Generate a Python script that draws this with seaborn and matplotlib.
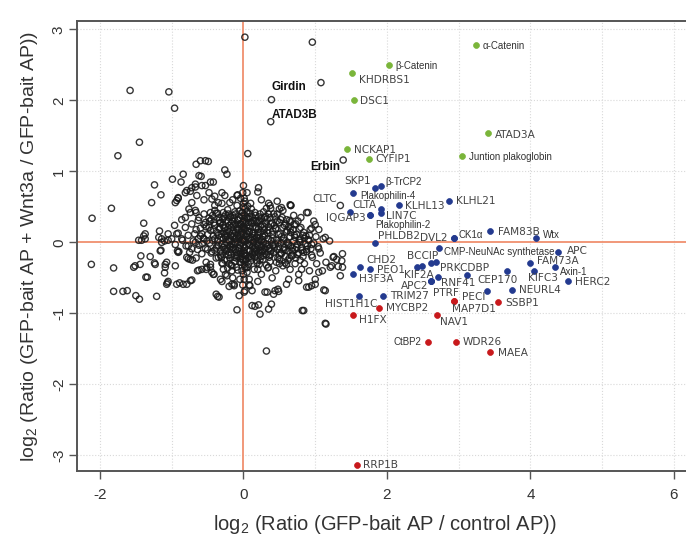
import matplotlib
matplotlib.use("Agg")
import matplotlib.pyplot as plt
import seaborn as sns
import pandas as pd

sns.set_theme(style="white")
plt.rcParams["font.family"] = ["Liberation Sans", "DejaVu Sans"]
plt.rcParams["mathtext.fontset"] = "custom"
plt.rcParams["mathtext.rm"] = "Liberation Sans"
plt.rcParams["mathtext.it"] = "Liberation Sans:italic"

# ---------------- data ----------------
bg_points = [
    # sparse outliers
    (0.02, 2.89), (0.96, 2.82), (1.08, 2.25), (0.06, 1.25), (-1.58, 2.14), (-1.04, 2.12),
    (-0.96, 1.89), (-1.45, 1.41), (-1.75, 1.22), (-2.11, 0.34), (-1.84, 0.48), (1.35, 0.52),
    (0.21, 0.77), (0.20, 0.71), (0.66, 0.52), (0.90, 0.42), (0.32, -1.53), (1.15, -1.15),
    (0.82, -0.96), (0.84, -0.96), (1.14, -1.14),
    # upper-left shoulder
    (-0.99, 0.89), (-0.84, 0.96), (-0.87, 0.85), (-0.66, 1.10), (-0.60, 1.15), (-0.53, 1.15),
    (-0.49, 1.14), (-0.62, 0.94), (-0.59, 0.93), (-0.67, 0.78), (-0.79, 0.73), (-0.74, 0.72),
    (-0.91, 0.62), (-0.95, 0.56), (-0.72, 0.56), (-0.53, 0.80), (-0.46, 0.85), (-0.42, 0.85),
    (-0.65, 0.66), (-0.55, 0.60), (-0.48, 0.70), (-0.40, 0.65), (-0.76, 0.47), (-0.66, 0.42),
    (-0.62, 0.35), (-0.55, 0.40), (-0.47, 0.30), (-0.40, 0.52), (-0.86, 0.32), (-0.96, 0.24),
    (-0.81, 0.21), (-0.72, 0.26), (-0.66, 0.18), (-0.58, 0.12), (-0.91, 0.13), (-0.77, 0.10),
    (-0.52, 0.22), (-0.93, 0.59), (-0.91, 0.63), (-0.81, 0.70), (-0.72, 0.77), (-0.67, 0.82),
    (-0.58, 0.80), (-0.30, 0.70), (-0.26, 0.66), (-0.19, 0.56), (-0.26, 1.02), (-0.23, 0.96),
    (-0.09, 0.66), (-0.81, 0.35), (-0.74, 0.42), (-0.67, 0.45), (-0.63, 0.31), (-0.53, 0.28),
    (-0.46, 0.42), (-0.44, 0.61), (-0.35, 0.56),
    # far left band
    (-1.24, 0.81), (-1.15, 0.67), (-1.28, 0.56), (-1.39, 0.27), (-1.37, 0.12), (-1.46, 0.03),
    (-1.42, 0.03), (-1.17, 0.16), (-1.05, 0.12), (-1.18, 0.07), (-1.00, 0.05), (-1.39, 0.09),
    (-1.37, 0.05), (-1.14, 0.05), (-1.05, 0.03), (-0.93, 0.12), (-0.86, 0.05), (-1.16, -0.12),
    (-1.14, 0.00), (-1.10, 0.02), (-0.95, -0.03), (-0.85, 0.03), (-0.80, -0.05), (-0.70, 0.02),
    (-0.62, -0.04), (-0.55, 0.05), (-0.50, -0.10), (-0.92, -0.12), (-0.75, -0.14), (-0.66, -0.22),
    (-0.58, -0.16), (-0.52, -0.28), (-0.77, -0.05), (-0.72, -0.09), (-0.67, 0.00), (-0.63, 0.05),
    (-0.91, -0.14), (-0.79, -0.21), (-0.74, -0.24),
    # lower-left
    (-2.12, -0.31), (-1.81, -0.36), (-1.53, -0.35), (-1.43, -0.19), (-1.30, -0.20), (-1.44, -0.31),
    (-1.24, -0.29), (-1.15, -0.11), (-1.36, -0.49), (-1.34, -0.49), (-1.09, -0.31), (-1.07, -0.28),
    (-1.09, -0.35), (-1.10, -0.43), (-0.95, -0.33), (-0.90, -0.13), (-1.06, -0.57), (-1.05, -0.55),
    (-1.81, -0.69), (-1.68, -0.69), (-1.62, -0.68), (-1.50, -0.75), (-1.45, -0.80), (-1.21, -0.76),
    (-0.89, -0.57), (-0.79, -0.59), (-0.72, -0.53), (-0.77, -0.23), (-0.71, -0.25), (-0.64, -0.40),
    (-0.62, -0.39), (-0.52, -0.38), (-0.46, -0.31), (-0.46, -0.35), (-0.41, -0.45), (-0.38, -0.73),
    (-0.36, -0.76), (-0.44, -0.42), (-0.58, -0.38), (-0.34, -0.77), (-1.23, -0.31), (-1.51, -0.33),
    (-1.07, -0.59), (-0.93, -0.59), (-0.84, -0.59), (-0.74, -0.54), (-0.51, -0.35), (-0.42, -0.45),
    # lower-middle / right
    (-0.09, -0.95), (0.12, -0.89), (0.16, -0.90), (0.21, -0.88), (0.23, -1.01), (0.35, -0.94),
    (0.39, -0.87), (-0.06, -0.75), (0.09, -0.61), (0.12, -0.68), (0.33, -0.70), (0.44, -0.68),
    (0.48, -0.66), (0.60, -0.59), (0.63, -0.52), (0.77, -0.45), (0.81, -0.38), (-0.23, -0.47),
    (-0.16, -0.40), (-0.32, -0.52), (-0.13, -0.59), (0.30, -0.70), (0.42, -0.73), (0.49, -0.69),
    (0.77, -0.54), (0.88, -0.63), (1.00, -0.59), (1.14, -0.68), (-0.16, -0.59), (-0.13, -0.61),
    (0.08, -0.60), (-0.28, -0.38), (-0.20, -0.30), (-0.10, -0.35), (0.05, -0.42), (0.15, -0.38),
    (0.25, -0.45), (0.35, -0.35), (0.45, -0.40), (0.55, -0.33), (0.65, -0.38), (0.72, -0.30),
    (0.85, -0.30), (0.92, -0.40), (0.62, -0.25), (0.50, -0.30), (0.40, -0.50), (0.20, -0.55),
    (0.08, -0.52), (-0.05, -0.52), (0.95, -0.18), (1.10, -0.40), (1.02, -0.30), (1.12, -0.67),
    (1.00, -0.52), (0.95, -0.61), (0.91, -0.63), (1.35, -0.47), (1.38, -0.16), (1.26, -0.20),
    (1.30, -0.24), (1.32, -0.34), (1.38, -0.35), (1.21, -0.35), (1.15, -0.28), (1.05, -0.09),
    (1.07, -0.15), (1.25, -0.21), (1.37, -0.26), (1.23, -0.33), (1.05, -0.42), (-0.30, -0.55),
    (-0.20, -0.62), (-0.15, -0.50), (-0.25, -0.45), (0.02, -0.68),
    # upper-right shoulder
    (0.35, 0.55), (0.37, 0.52), (0.50, 0.47), (0.53, 0.49), (0.65, 0.53), (0.95, 0.20),
    (1.11, 0.05), (1.14, 0.07), (0.30, 0.35), (0.42, 0.40), (0.55, 0.45), (0.70, 0.38),
    (0.76, 0.30), (0.80, 0.35), (0.60, 0.32), (0.47, 0.58), (0.25, 0.60), (0.10, 0.55),
    (-0.08, 0.67), (-0.15, 0.60), (-0.30, 0.55), (-0.40, 0.45), (0.05, 0.70), (0.32, 0.48),
    (1.00, 0.25), (1.05, 0.18), (1.20, 0.02), (0.98, 0.30), (0.66, 0.52), (0.88, 0.42),
    # dense core
    (-0.45, 0.32), (-0.42, 0.18), (-0.40, 0.05), (-0.38, -0.08), (-0.36, 0.41), (-0.35, -0.21),
    (-0.33, 0.27), (-0.31, 0.12), (-0.30, -0.02), (-0.29, -0.30), (-0.27, 0.36), (-0.26, 0.20),
    (-0.25, 0.07), (-0.24, -0.12), (-0.23, -0.25), (-0.22, 0.46), (-0.21, 0.29), (-0.20, 0.15),
    (-0.19, 0.02), (-0.18, -0.06), (-0.17, -0.17), (-0.16, -0.33), (-0.15, 0.38), (-0.14, 0.24),
    (-0.13, 0.10), (-0.12, -0.01), (-0.11, -0.10), (-0.10, -0.22), (-0.09, 0.52), (-0.08, 0.31),
    (-0.07, 0.18), (-0.06, 0.06), (-0.05, -0.04), (-0.04, -0.15), (-0.03, -0.28), (-0.02, 0.42),
    (-0.01, 0.22), (0.00, 0.11), (0.01, 0.01), (0.02, -0.07), (0.03, -0.19), (0.04, -0.36),
    (0.05, 0.34), (0.06, 0.16), (0.07, 0.04), (0.08, -0.03), (0.09, -0.12), (0.10, -0.26),
    (0.11, 0.47), (0.12, 0.27), (0.13, 0.13), (0.14, 0.00), (0.15, -0.09), (0.16, -0.20),
    (0.17, 0.38), (0.18, 0.20), (0.19, 0.07), (0.20, -0.05), (0.21, -0.15), (0.22, -0.31),
    (0.23, 0.30), (0.24, 0.14), (0.25, 0.02), (0.26, -0.11), (0.27, -0.24), (0.28, 0.43),
    (0.29, 0.22), (0.30, 0.09), (0.31, -0.02), (0.32, -0.17), (0.33, 0.33), (0.34, 0.17),
    (0.35, 0.05), (0.36, -0.08), (0.37, -0.27), (0.38, 0.26), (0.40, 0.11), (0.41, -0.04),
    (0.42, -0.14), (0.44, 0.36), (0.45, 0.19), (0.46, 0.03), (0.47, -0.10), (0.48, -0.22),
    (0.50, 0.28), (0.51, 0.12), (0.52, -0.01), (0.53, -0.16), (0.55, 0.21), (0.56, 0.06),
    (0.57, -0.07), (0.58, -0.29), (0.60, 0.15), (0.61, 0.00), (0.62, -0.12), (0.64, 0.31),
    (0.65, 0.08), (0.66, -0.05), (0.67, -0.19), (0.69, 0.18), (0.70, 0.02), (0.72, -0.10),
    (0.74, 0.11), (0.75, -0.03), (0.77, -0.15), (0.79, 0.05), (0.81, -0.07), (0.84, 0.14),
    (0.86, -0.02), (0.88, -0.13), (0.91, 0.03), (0.94, -0.09), (0.98, -0.01),
    (-0.28, 0.05), (-0.26, -0.04), (-0.24, 0.13), (-0.22, -0.09), (-0.20, 0.24), (-0.18, 0.09),
    (-0.16, -0.02), (-0.14, 0.17), (-0.12, 0.05), (-0.10, -0.14), (-0.08, 0.10), (-0.06, -0.09),
    (-0.04, 0.26), (-0.02, 0.03), (0.00, -0.12), (0.02, 0.19), (0.04, 0.08), (0.06, -0.02),
    (0.08, 0.23), (0.10, 0.07), (0.12, -0.16), (0.14, 0.31), (0.16, 0.05), (0.18, -0.10),
    (0.20, 0.14), (0.22, 0.03), (0.24, -0.20), (0.26, 0.25), (0.28, 0.00), (0.30, -0.08),
    (-0.27, 0.21), (-0.21, -0.18), (-0.15, 0.30), (-0.09, 0.00), (-0.03, 0.15), (0.03, -0.25),
    (0.09, 0.36), (0.15, 0.10), (0.21, 0.36), (0.27, 0.08), (-0.05, 0.35), (0.01, -0.31),
    (0.07, 0.28), (0.13, -0.06), (0.19, -0.26), (0.25, -0.06), (-0.35, 0.10), (-0.32, -0.12),
    (-0.02, -0.20), (0.05, 0.44), (0.35, 0.40), (-0.11, 0.40), (0.36, -0.18), (0.39, 0.02),
    (0.43, 0.24), (0.49, -0.06), (0.54, 0.35), (0.59, -0.20), (0.63, 0.22), (0.68, -0.12),
    (0.71, 0.25), (0.73, -0.22), (0.78, 0.19), (0.83, -0.20), (0.87, 0.09), (0.93, 0.18),
    (0.96, -0.21), (1.01, 0.08), (1.04, -0.06),
    (0.00, 0.55), (0.01, 0.62), (-0.01, 0.70), (0.00, -0.45), (0.01, -0.52), (-0.01, -0.60),
    (0.02, 0.48), (-0.02, -0.40),
    # more of the dense core
    (-0.38, 0.41), (-0.25, 0.39), (-0.12, 0.43), (0.02, 0.38), (0.16, 0.42), (0.31, 0.37),
    (0.47, 0.40), (-0.48, 0.34), (-0.34, 0.31), (-0.20, 0.35), (-0.07, 0.32), (0.07, 0.34),
    (0.21, 0.30), (0.37, 0.35), (0.52, 0.32), (0.66, 0.29), (-0.55, 0.25), (-0.41, 0.28),
    (-0.29, 0.24), (-0.17, 0.27), (-0.03, 0.25), (0.10, 0.28), (0.24, 0.23), (0.40, 0.27),
    (0.57, 0.24), (0.73, 0.26), (-0.60, 0.20), (-0.46, 0.17), (-0.33, 0.21), (-0.22, 0.18),
    (-0.09, 0.20), (0.03, 0.17), (0.17, 0.21), (0.29, 0.18), (0.45, 0.20), (0.61, 0.17),
    (0.80, 0.21), (-0.50, 0.11), (-0.37, 0.14), (-0.26, 0.10), (-0.15, 0.13), (-0.04, 0.11),
    (0.08, 0.14), (0.20, 0.10), (0.34, 0.13), (0.49, 0.11), (0.66, 0.14), (0.83, 0.10),
    (-0.56, 0.06), (-0.43, 0.03), (-0.31, 0.07), (-0.21, 0.04), (-0.10, 0.06), (0.01, 0.03),
    (0.13, 0.07), (0.26, 0.04), (0.41, 0.06), (0.56, 0.03), (0.72, 0.07), (0.90, 0.04),
    (-0.47, -0.01), (-0.35, -0.04), (-0.24, 0.00), (-0.14, -0.03), (-0.03, -0.01), (0.09, -0.04),
    (0.21, 0.00), (0.34, -0.03), (0.48, -0.01), (0.63, -0.04), (0.79, 0.00), (0.95, -0.03),
    (-0.53, -0.08), (-0.40, -0.11), (-0.28, -0.07), (-0.17, -0.10), (-0.06, -0.08), (0.05, -0.11),
    (0.17, -0.07), (0.29, -0.10), (0.43, -0.08), (0.58, -0.11), (0.74, -0.07), (0.88, -0.10),
    (-0.45, -0.15), (-0.32, -0.18), (-0.20, -0.14), (-0.09, -0.17), (0.02, -0.15), (0.13, -0.18),
    (0.25, -0.14), (0.38, -0.17), (0.52, -0.15), (0.69, -0.18), (0.84, -0.14), (-0.38, -0.22),
    (-0.26, -0.25), (-0.13, -0.21), (-0.01, -0.24), (0.11, -0.22), (0.23, -0.25), (0.36, -0.21),
    (0.50, -0.24), (0.64, -0.22), (0.79, -0.25), (-0.30, -0.29), (-0.17, -0.32), (-0.05, -0.28),
    (0.07, -0.31), (0.19, -0.29), (0.32, -0.32), (0.46, -0.28), (0.60, -0.31), (-0.22, -0.36),
    (-0.08, -0.39), (0.06, -0.35), (0.20, -0.38), (0.34, -0.36),
    (-0.32, 0.28), (-0.27, 0.15), (-0.23, 0.31), (-0.19, -0.04), (-0.15, 0.08), (-0.11, 0.26),
    (-0.07, -0.12), (-0.03, 0.20), (0.00, 0.30), (0.04, -0.05), (0.08, 0.16), (0.12, 0.36),
    (0.16, -0.13), (0.19, 0.28), (-0.30, -0.15), (-0.18, 0.36), (-0.06, 0.44), (0.06, 0.51),
    (-0.12, -0.27), (0.10, -0.20), (0.23, 0.40), (0.27, -0.13), (-0.36, 0.02), (-0.40, 0.24),
    (0.02, 0.58), (-0.04, 0.62), (0.00, 0.80), (0.01, -0.70), (0.38, 0.48), (-0.43, 0.38),
    (-0.33, 0.19), (-0.29, 0.33), (-0.26, -0.10), (-0.23, 0.09), (-0.21, 0.40), (-0.19, -0.22),
    (-0.17, 0.21), (-0.15, -0.07), (-0.13, 0.34), (-0.11, 0.14), (-0.09, -0.19), (-0.07, 0.25),
    (-0.05, 0.09), (-0.04, -0.23), (-0.02, 0.37), (0.00, 0.05), (0.01, -0.16), (0.03, 0.27),
    (0.05, 0.12), (0.07, -0.21), (0.09, 0.41), (0.11, 0.03), (0.13, 0.22), (0.15, -0.15),
    (0.17, 0.31), (0.19, -0.03), (0.21, 0.19), (0.23, -0.11), (0.25, 0.34), (0.27, -0.19),
    (0.29, 0.12), (0.31, 0.27), (0.33, -0.06), (0.35, 0.22), (0.38, -0.12), (0.41, 0.16),
    (0.44, -0.03), (0.47, 0.30), (0.50, -0.18), (0.53, 0.08), (0.56, -0.10), (0.59, 0.26),
    (0.62, -0.02), (0.65, 0.19), (0.68, -0.08), (0.71, 0.10), (0.75, -0.17), (0.78, 0.03),
    (0.82, -0.11), (0.85, 0.06), (0.89, -0.05), (0.92, 0.10), (-0.37, -0.05), (-0.34, 0.35),
    (-0.31, -0.21), (-0.28, 0.42), (-0.42, 0.09), (-0.44, -0.13), (-0.48, 0.21), (-0.51, 0.02),
    (-0.57, -0.02), (-0.60, 0.09), (-0.64, -0.10), (-0.68, 0.12),
    (0.00, 0.20), (0.00, -0.05), (-0.01, 0.42), (0.01, 0.33), (0.00, -0.25), (-0.02, 0.12),
    (0.02, -0.35), (0.00, 0.50), (0.01, -0.18), (-0.01, 0.28),
]
bg_x = [p[0] for p in bg_points]
bg_y = [p[1] for p in bg_points]

green_genes = ["α-Catenin", "β-Catenin", "KHDRBS1", "DSC1", "ATAD3A", "NCKAP1", "CYFIP1",
               "Juntion plakoglobin"]
green_x = [3.24, 2.03, 1.51, 1.54, 3.41, 1.44, 1.75, 3.04]
green_y = [2.78, 2.50, 2.38, 2.00, 1.54, 1.32, 1.17, 1.22]

bold_genes = ["Girdin", "ATAD3B", "Erbin"]
bold_x = [0.39, 0.38, 1.39]
bold_y = [2.01, 1.70, 1.16]

blue_genes = ["SKP1", "β-TrCP2", "Plakophilin-4", "CLTC", "CLTA", "LIN7C", "KLHL13", "KLHL21",
              "IQGAP3", "Plakophilin-2", "PHLDB2", "DVL2", "CK1α", "FAM83B", "Wtx",
              "CMP-NeuNAc synthetase", "APC", "CHD2", "BCCIP", "PRKCDBP", "FAM73A", "Axin-1",
              "KIFC3", "HERC2", "PEO1", "H3F3A", "KIF2A", "RNF41", "APC2", "PTRF", "CEP170",
              "NEURL4", "TRIM27", "HIST1H1C", "", "", "", ""]
blue_x = [1.83, 1.91, 1.53, 1.49, 1.91, 1.92, 2.17, 2.86,
          1.77, 1.77, 1.84, 2.94, 2.94, 3.44, 4.08,
          2.72, 4.39, 1.63, 2.62, 2.69, 4.00, 4.34,
          4.05, 4.52, 1.77, 1.52, 2.71, 2.62, 2.62, 2.62, 3.11,
          3.74, 1.94, 1.61, 2.42, 2.49, 3.68, 3.40]
blue_y = [0.76, 0.80, 0.69, 0.43, 0.47, 0.42, 0.52, 0.58,
          0.38, 0.38, -0.01, 0.06, 0.06, 0.16, 0.06,
          -0.08, -0.14, -0.35, -0.29, -0.27, -0.29, -0.35,
          -0.40, -0.54, -0.38, -0.45, -0.49, -0.54, -0.54, -0.54, -0.46,
          -0.67, -0.75, -0.75, -0.34, -0.33, -0.40, -0.69]

red_genes = ["PECI", "MAP7D1", "SSBP1", "MYCBP2", "H1FX", "NAV1", "CtBP2", "WDR26", "MAEA", "RRP1B"]
red_x = [2.93, 2.93, 3.55, 1.89, 1.52, 2.70, 2.57, 2.96, 3.44, 1.58]
red_y = [-0.83, -0.83, -0.84, -0.93, -1.02, -1.02, -1.41, -1.41, -1.55, -3.14]

x_ticks = [-2, 0, 2, 4, 6]
y_ticks = [-3, -2, -1, 0, 1, 2, 3]

# ---------------- label placement (pixels: dx, dy, ha) ----------------
label_pos = {
    "α-Catenin": (7, -1, "left"), "β-Catenin": (6, -1, "left"), "KHDRBS1": (7, -7, "left"),
    "DSC1": (6, -1, "left"), "ATAD3A": (7, -2, "left"), "NCKAP1": (7, -1, "left"),
    "CYFIP1": (6, 0, "left"), "Juntion plakoglobin": (7, -1, "left"),
    "Girdin": (0, 13, "left"), "ATAD3B": (1, 7, "left"), "Erbin": (-3, -7, "right"),
    "SKP1": (-4, 7, "right"), "β-TrCP2": (5, 4, "left"), "Plakophilin-4": (7, -3, "left"),
    "CLTC": (-13, 13, "right"), "CLTA": (-4, 4, "right"), "LIN7C": (5, -3, "left"),
    "KLHL13": (6, -1, "left"), "KLHL21": (7, 0, "left"), "IQGAP3": (-5, -3, "right"),
    "Plakophilin-2": (5, -10, "left"), "PHLDB2": (3, 7, "left"), "DVL2": (-7, 0, "right"),
    "CK1α": (4, 3, "left"), "FAM83B": (8, -1, "left"), "Wtx": (7, 3, "left"),
    "CMP-NeuNAc synthetase": (5, -4, "left"), "APC": (8, 1, "left"), "CHD2": (6, 7, "left"),
    "BCCIP": (7, 7, "right"), "PRKCDBP": (4, -6, "left"), "FAM73A": (7, 2, "left"),
    "Axin-1": (5, -5, "left"), "KIFC3": (-6, -7, "left"), "HERC2": (7, -1, "left"),
    "PEO1": (7, -1, "left"), "H3F3A": (6, -5, "left"), "KIF2A": (-4, 2, "right"),
    "RNF41": (10, -2, "left"), "APC2": (-3, -5, "right"), "PTRF": (2, -12, "left"),
    "CEP170": (11, -5, "left"), "NEURL4": (7, 0, "left"), "TRIM27": (7, 0, "left"),
    "HIST1H1C": (-34, -8, "left"),
    "PECI": (8, 4, "left"), "MAP7D1": (-2, -8, "left"), "SSBP1": (7, -1, "left"),
    "MYCBP2": (7, 0, "left"), "H1FX": (6, -5, "left"), "NAV1": (3, -7, "left"),
    "CtBP2": (-6, 0, "right"), "WDR26": (7, 0, "left"), "MAEA": (8, -1, "left"),
    "RRP1B": (6, 0, "left"),
}
narrow = {"α-Catenin", "β-Catenin", "Juntion plakoglobin", "β-TrCP2", "Plakophilin-4",
          "Plakophilin-2", "CMP-NeuNAc synthetase", "Wtx", "CK1α", "Axin-1", "CtBP2"}

GREEN, BLUE, RED = "#7ab53a", "#233a8f", "#c8191c"

# ---------------- figure ----------------
fig = plt.figure(figsize=(6.86, 5.36), dpi=100)
ax = fig.add_axes([77 / 686, 65 / 536, 615 / 686, 450 / 536])
ax.set_xlim(-2.32, -2.32 + 615 / 71.75)
ax.set_ylim(-3.22, -3.22 + 450 / 71.0)

for v in range(-2, 7):
    if v != 0:
        ax.axvline(v, color="#d9d9d9", lw=0.8, ls=":", zorder=0)
for v in range(-3, 4):
    if v != 0:
        ax.axhline(v, color="#d9d9d9", lw=0.8, ls=":", zorder=0)
ax.axvline(0, color="#f0906e", lw=1.3, zorder=1)
ax.axhline(0, color="#f0906e", lw=1.3, zorder=1)

bg = pd.DataFrame({"x": bg_x + bold_x, "y": bg_y + bold_y})
sns.scatterplot(data=bg, x="x", y="y", ax=ax, s=20, marker="o", facecolor="none",
                edgecolor="#1a1a1a", linewidth=1.0, alpha=0.88, zorder=2, legend=False)

for xs, ys, col in [(green_x, green_y, GREEN), (blue_x, blue_y, BLUE), (red_x, red_y, RED)]:
    d = pd.DataFrame({"x": xs, "y": ys})
    sns.scatterplot(data=d, x="x", y="y", ax=ax, s=18, color=col, edgecolor=col,
                    linewidth=0.5, zorder=3, legend=False)

def put_labels(names, xs, ys, bold=False):
    for n, x, y in zip(names, xs, ys):
        if not n:
            continue
        dx, dy, ha = label_pos[n]
        if bold:
            kw = dict(fontsize=8.5, fontweight="bold", color="#111111",
                      family=["Liberation Sans", "DejaVu Sans"])
        elif n in narrow:
            kw = dict(fontsize=7, color="#333333", family=["Liberation Sans", "DejaVu Sans"])
        else:
            kw = dict(fontsize=7.6, color="#444444", family=["DejaVu Sans"])
        ax.annotate(n, (x, y), xytext=(dx, dy), textcoords="offset pixels",
                    ha=ha, va="center", zorder=4, **kw)

put_labels(green_genes, green_x, green_y)
put_labels(bold_genes, bold_x, bold_y, bold=True)
put_labels(blue_genes, blue_x, blue_y)
put_labels(red_genes, red_x, red_y)

ax.set_xticks(x_ticks)
ax.set_yticks(y_ticks)
ax.set_xticklabels([str(t) for t in x_ticks])
ax.set_yticklabels([str(t) for t in y_ticks], rotation=90, va="center")
ax.tick_params(direction="out", length=6, width=1, color="#555555", labelsize=11,
               labelcolor="#333333", left=True, bottom=True)
ax.tick_params(axis="x", pad=6)
ax.tick_params(axis="y", pad=2)
for s in ax.spines.values():
    s.set_color("#555555")
    s.set_linewidth(1.4)

ax.set_xlabel(r"log$_\mathregular{2}$ (Ratio (GFP-bait AP / control AP))", fontsize=14.5,
              color="#333333")
ax.set_ylabel(r"log$_\mathregular{2}$ (Ratio (GFP-bait AP + Wnt3a / GFP-bait AP))", fontsize=14,
              color="#333333")
ax.xaxis.set_label_coords(0.50, -0.093)
ax.yaxis.set_label_coords(-0.060, 0.50)

fig.savefig("out.png", dpi=100, facecolor="white")
